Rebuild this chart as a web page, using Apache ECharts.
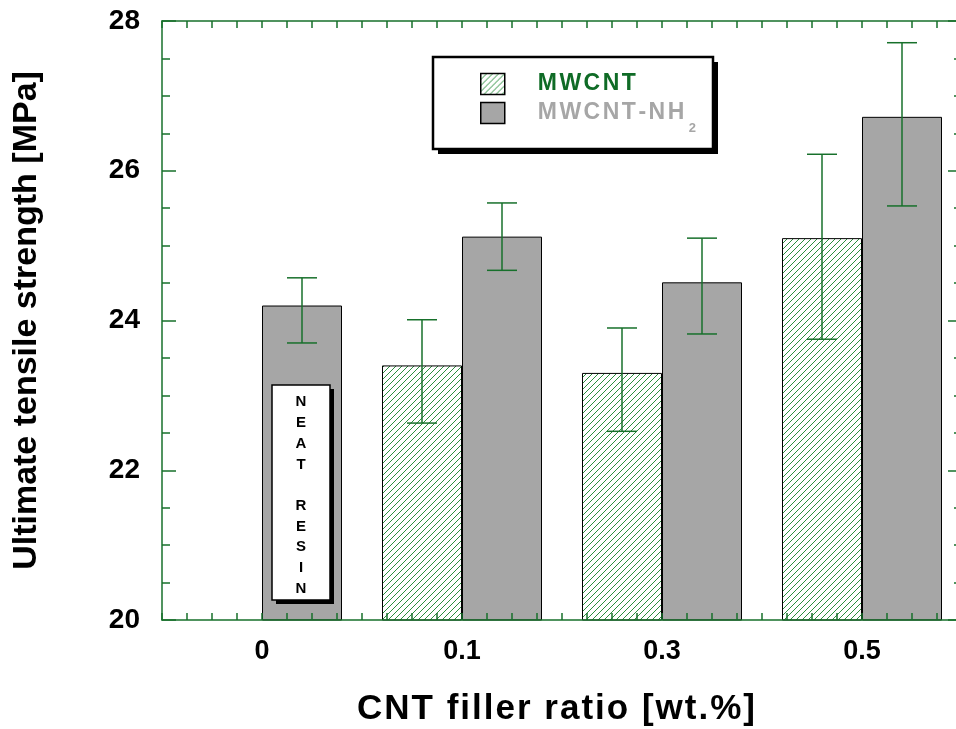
<!DOCTYPE html>
<html>
<head>
<meta charset="utf-8">
<script src="https://cdn.jsdelivr.net/npm/echarts@6/dist/echarts.min.js"></script>
<style>
  html, body { margin: 0; padding: 0; background: #fff; }
  #chart { width: 956px; height: 729px; }
</style>
</head>
<body>
<div id="chart"></div>
<script>
// Filler ratios (wt.%) and ultimate tensile strength (MPa) with error ranges
const categories = ['0', '0.1', '0.3', '0.5'];
const mwcnt = [null, 23.4, 23.3, 25.1];
const mwcntLow = [null, 22.63, 22.52, 23.75];
const mwcntHigh = [null, 24.01, 23.9, 26.22];
const mwcntNh2 = [24.2, 25.12, 24.51, 26.72];
const mwcntNh2Low = [23.7, 24.67, 23.82, 25.53];
const mwcntNh2High = [24.57, 25.57, 25.1, 27.71];
const yMin = 20, yMax = 28, yStep = 2;

const FONT = 'Liberation Sans, Arial, Helvetica, sans-serif';
const GREEN = '#17702b';
const GRAY = '#a6a6a6';

// diagonal hatch tile for the MWCNT bars: pixel-exact "/" strokes
function hatchTile() {
  const n = 6;
  const c = document.createElement('canvas');
  c.width = n; c.height = n;
  const g = c.getContext('2d');
  g.fillStyle = '#ffffff';
  g.fillRect(0, 0, n, n);
  g.fillStyle = '#2a8f3e';
  for (let i = 0; i < n; i++) {
    g.fillRect(i, n - 1 - i, 1, 1);
  }
  return c;
}
const hatch = { image: hatchTile(), repeat: 'repeat' };

// split a string into rich-text tokens so every glyph gets a little tracking
function spaced(text, style) {
  return text.split('').map(ch => '{' + style + '|' + ch + '}').join('');
}

function errorSeries(low, high, side) {
  return {
    type: 'custom',
    xAxisIndex: 0,
    yAxisIndex: 0,
    z: 4,
    silent: true,
    data: categories.map((c, i) => [i, low[i], high[i]]).filter(d => d[1] != null),
    encode: { x: 0, y: [1, 2] },
    renderItem(params, api) {
      const lo = api.coord([api.value(0), api.value(1)]);
      const hi = api.coord([api.value(0), api.value(2)]);
      const band = api.size([1, 0])[0];
      const x = lo[0] + side * band * 0.2;
      const cap = 15;
      const style = { stroke: GREEN, lineWidth: 1.5 };
      return {
        type: 'group',
        children: [
          { type: 'line', shape: { x1: x, y1: hi[1], x2: x, y2: lo[1] }, style },
          { type: 'line', shape: { x1: x - cap, y1: hi[1], x2: x + cap, y2: hi[1] }, style },
          { type: 'line', shape: { x1: x - cap, y1: lo[1], x2: x + cap, y2: lo[1] }, style }
        ]
      };
    }
  };
}

// a white framed box with a solid drop shadow below and to the right
function shadowBox(x, y, w, h, off, lineWidth, z) {
  return [
    { type: 'rect', z, shape: { x: x + off, y: y + off, width: w, height: h }, style: { fill: '#000' } },
    { type: 'rect', z: z + 0.1, shape: { x, y, width: w, height: h }, style: { fill: '#fff', stroke: '#000', lineWidth } }
  ];
}

const axisLine = { show: true, lineStyle: { color: GREEN, width: 1.5 } };
const gridRect = { left: 162, right: -6, top: 21, bottom: 109, containLabel: false, outerBoundsMode: 'none' };

const chart = echarts.init(document.getElementById('chart'), null, { renderer: 'canvas' });

chart.setOption({
  animation: false,
  backgroundColor: '#ffffff',
  textStyle: { fontFamily: FONT },
  grid: [Object.assign({}, gridRect), Object.assign({}, gridRect)],
  xAxis: [
    {
      type: 'category',
      gridIndex: 0,
      data: categories,
      position: 'bottom',
      z: 5,
      axisLine: { show: false },
      axisTick: { show: false },
      splitLine: { show: false },
      axisLabel: {
        interval: 0, margin: 18, color: '#000',
        fontSize: 27, fontWeight: 'bold', fontFamily: FONT
      },
      name: spaced('CNT filler ratio [wt.%]', 't'),
      nameLocation: 'middle',
      nameGap: 72,
      nameTextStyle: {
        padding: [0, 10, 0, 0],
        rich: { t: { fontSize: 35, fontWeight: 'bold', color: '#000', fontFamily: FONT, padding: [0, 2, 0, 0] } }
      }
    },
    {
      type: 'value', gridIndex: 1, position: 'bottom', min: 0, max: 32, interval: 1, z: 5,
      axisLine: axisLine,
      axisTick: { show: true, inside: true, length: 7, lineStyle: { color: GREEN, width: 1.5 } },
      axisLabel: { show: false },
      splitLine: { show: false }
    },
    {
      type: 'value', gridIndex: 1, position: 'top', min: 0, max: 32, interval: 1, z: 5,
      axisLine: axisLine,
      axisTick: { show: true, inside: true, length: 7, lineStyle: { color: GREEN, width: 1.5 } },
      axisLabel: { show: false },
      splitLine: { show: false }
    }
  ],
  yAxis: [
    {
      type: 'value', gridIndex: 0, position: 'left', min: yMin, max: yMax, interval: yStep, z: 5,
      axisLine: axisLine,
      axisTick: { show: true, inside: true, length: 14, lineStyle: { color: GREEN, width: 1.5 } },
      minorTick: { show: true, splitNumber: 4, length: 8, lineStyle: { color: GREEN, width: 1.5 } },
      splitLine: { show: false },
      minorSplitLine: { show: false },
      axisLabel: { margin: 22, color: '#000', fontSize: 28, fontWeight: 'bold', fontFamily: FONT },
      name: 'Ultimate tensile strength [MPa]',
      nameLocation: 'middle',
      nameGap: 118,
      nameTextStyle: { fontSize: 34, fontWeight: 'bold', color: '#000', fontFamily: FONT }
    },
    {
      type: 'value', gridIndex: 0, position: 'right', min: yMin, max: yMax, interval: yStep, z: 5,
      axisLine: axisLine,
      axisTick: { show: true, inside: true, length: 14, lineStyle: { color: GREEN, width: 1.5 } },
      minorTick: { show: true, splitNumber: 4, length: 8, lineStyle: { color: GREEN, width: 1.5 } },
      splitLine: { show: false },
      axisLabel: { show: false }
    },
    { type: 'value', gridIndex: 1, show: false, min: 0, max: 1 }
  ],
  legend: {
    data: ['MWCNT', 'MWCNT-NH2'],
    orient: 'vertical',
    icon: 'rect',
    left: 480,
    top: 72.5,
    padding: 0,
    itemGap: -4,
    itemWidth: 24,
    itemHeight: 21,
    z: 10,
    selectedMode: false,
    itemStyle: { borderColor: '#000', borderWidth: 1.5 },
    formatter(name) {
      if (name === 'MWCNT') return '{p|}' + spaced('MWCNT', 'g');
      return '{p|}' + spaced('MWCNT-NH', 'k') + '{s|2}';
    },
    textStyle: {
      rich: {
        p: { width: 28, lineHeight: 34 },
        g: { fontSize: 23, fontWeight: 'bold', color: '#0f6b26', fontFamily: FONT, lineHeight: 34, padding: [0, 2.5, 0, 0] },
        k: { fontSize: 23, fontWeight: 'bold', color: GRAY, fontFamily: FONT, lineHeight: 34, padding: [0, 2.5, 0, 0] },
        s: { fontSize: 13, fontWeight: 'bold', color: GRAY, fontFamily: FONT, lineHeight: 4, padding: [30, 0, 0, 2] }
      }
    }
  },
  graphic: [
    ...shadowBox(433, 57, 280, 92, 5, 2.5, 8),
    ...shadowBox(272, 385, 58, 215, 4, 1.5, 8),
    {
      type: 'text', z: 9,
      x: 301, y: 392,
      style: {
        text: 'N\nE\nA\nT\n\nR\nE\nS\nI\nN',
        fontSize: 15, fontWeight: 'bold', fontFamily: FONT, fill: '#000',
        lineHeight: 20.7, align: 'center', verticalAlign: 'top'
      }
    }
  ],
  series: [
    {
      name: 'MWCNT', type: 'bar', xAxisIndex: 0, yAxisIndex: 0,
      data: mwcnt, barWidth: 80, barGap: '0%',
      itemStyle: { color: hatch, borderColor: '#000', borderWidth: 1 }
    },
    {
      name: 'MWCNT-NH2', type: 'bar', xAxisIndex: 0, yAxisIndex: 0,
      data: mwcntNh2, barWidth: 80, barGap: '0%',
      itemStyle: { color: GRAY, borderColor: '#000', borderWidth: 1 }
    },
    errorSeries(mwcntLow, mwcntHigh, -1),
    errorSeries(mwcntNh2Low, mwcntNh2High, 1)
  ]
});
</script>
</body>
</html>
